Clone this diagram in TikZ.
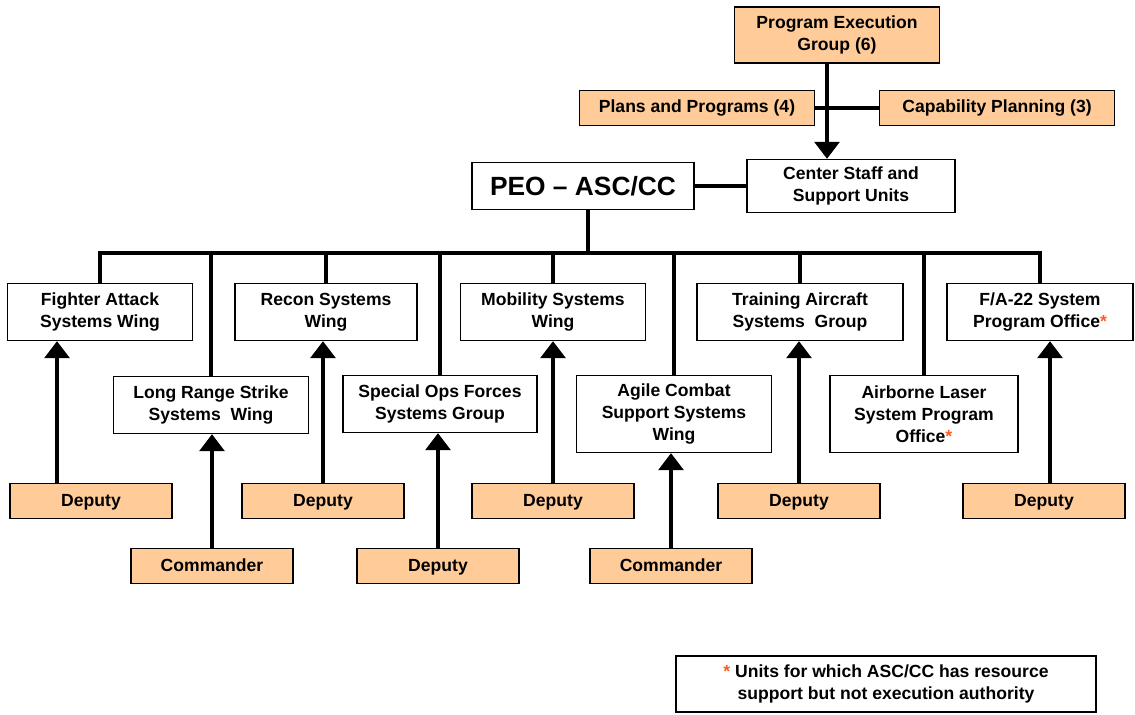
\documentclass[tikz,border=0pt]{standalone}
\usepackage{fontspec}
\setmainfont{Liberation Sans}
\usepackage{tikz}
\usetikzlibrary{arrows.meta, positioning, calc}
\definecolor{staffpeach}{HTML}{FFCC99}
\definecolor{starred}{HTML}{FF5A1F}
\newcommand{\resstar}{\textcolor{starred}{*}}

\begin{document}
\begin{tikzpicture}[x=0.02cm, y=-0.02cm,
  unit/.style={rectangle, draw=black, line width=0.8pt, fill=white, align=center, inner sep=2pt, font=\bfseries\fontsize{10}{12.5}\selectfont},
  staff/.style={unit, fill=staffpeach},
  wing/.style={unit, minimum width=3.7cm, minimum height=1.14cm},
  deputy/.style={staff, minimum width=3.24cm, minimum height=0.7cm, text height=1.6ex, text depth=0.4ex},
  link/.style={line width=1.8pt},
  arrow/.style={link, -{Triangle[width=0.5cm, length=0.34cm]}}
]
  \useasboundingbox (0,0) rectangle (1135,715);

  % headquarters
  \node[staff, minimum width=4.1cm, minimum height=1.12cm] (peg) at (837,35) {Program Execution\\Group (6)};
  \node[staff, minimum width=4.7cm, minimum height=0.7cm] (plans) at (697,108) {Plans and Programs (4)};
  \node[staff, minimum width=4.7cm, minimum height=0.7cm] (cap) at (997,108) {Capability Planning (3)};
  \node[unit, minimum width=4.16cm, minimum height=1.06cm] (css) at (851,186) {Center Staff and\\Support Units};
  \node[unit, minimum width=4.44cm, minimum height=0.94cm, font=\bfseries\fontsize{15}{18}\selectfont] (peo) at (583,186) {PEO – ASC/CC};

  % wings and groups
  \node[wing] (fa) at (100,312) {Fighter Attack\\Systems Wing};
  \node[wing, minimum width=3.9cm] (lrs) at (211,405) {Long Range Strike\\Systems~ Wing};
  \node[wing, minimum width=3.64cm] (rsw) at (326,312) {Recon Systems\\Wing};
  \node[wing, minimum width=3.88cm] (sof) at (440,404) {Special Ops Forces\\Systems Group};
  \node[wing] (msw) at (553,312) {Mobility Systems\\Wing};
  \node[wing, minimum width=3.9cm, minimum height=1.54cm] (acs) at (674,414) {Agile Combat\\Support Systems\\Wing};
  \node[wing, minimum width=4.12cm] (tag) at (800,312) {Training Aircraft\\Systems~ Group};
  \node[wing, minimum width=3.76cm, minimum height=1.54cm] (abl) at (924,414) {Airborne Laser\\System Program\\Office\resstar};
  \node[wing, minimum width=3.72cm] (f22) at (1040,312) {F/A-22 System\\Program Office\resstar};

  % deputies and commanders
  \node[deputy] (d1) at (91,501) {Deputy};
  \node[deputy] (c1) at (212,566) {Commander};
  \node[deputy] (d2) at (323,501) {Deputy};
  \node[deputy] (d3) at (438,566) {Deputy};
  \node[deputy] (d4) at (553,501) {Deputy};
  \node[deputy] (c2) at (671,566) {Commander};
  \node[deputy] (d5) at (799,501) {Deputy};
  \node[deputy] (d6) at (1044,501) {Deputy};

  \node[unit, minimum width=8.4cm, minimum height=1.12cm] (note) at (886,684) {\resstar{} Units for which ASC/CC has resource\\support but not execution authority};

  % connectors
  \coordinate (bus) at (0,253);
  \draw[arrow] ([xshift=-0.2cm]peg.south) -- ([xshift=-0.2cm]peg.south |- css.north);
  \draw[link] (plans.east) -- (cap.west);
  \draw[link] (peo.east) -- (css.west);
  \draw[link] ([xshift=0.1cm]peo.south) -- ([xshift=0.1cm]peo.south |- bus);
  \draw[link] (fa.north) |- (f22.north |- bus) -- (f22.north);
  \foreach \n in {lrs, rsw, sof, msw, acs, tag, abl}
    \draw[link] (\n.north) -- (\n.north |- bus);

  \draw[arrow] ([xshift=-0.68cm]d1.north) -- ([xshift=-0.68cm]d1.north |- fa.south);
  \draw[arrow] (c1.north) -- (c1.north |- lrs.south);
  \draw[arrow] (d2.north) -- (d2.north |- rsw.south);
  \draw[arrow] (d3.north) -- (d3.north |- sof.south);
  \draw[arrow] (d4.north) -- (d4.north |- msw.south);
  \draw[arrow] (c2.north) -- (c2.north |- acs.south);
  \draw[arrow] (d5.north) -- (d5.north |- tag.south);
  \draw[arrow] ([xshift=0.12cm]d6.north) -- ([xshift=0.12cm]d6.north |- f22.south);
\end{tikzpicture}
\end{document}
